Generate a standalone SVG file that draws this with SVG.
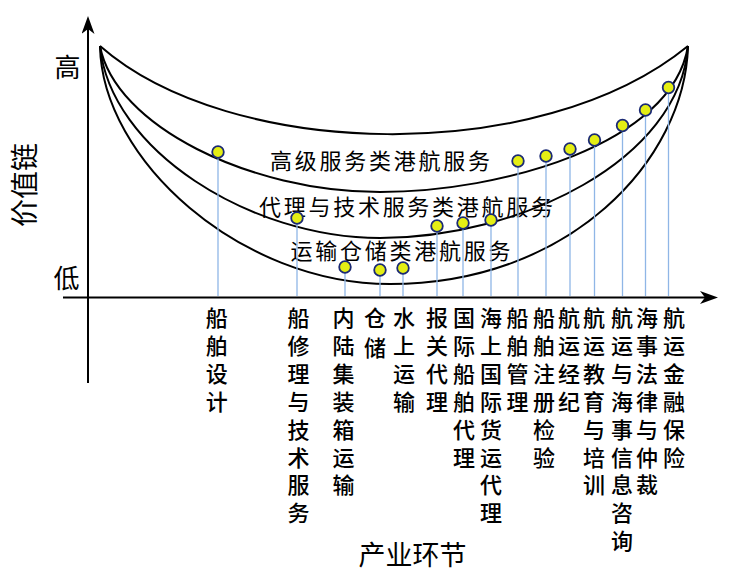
<svg xmlns="http://www.w3.org/2000/svg" width="746" height="583" viewBox="0 0 746 583">
<style>
.curve{fill:none;stroke:#000;stroke-width:2}
.axis{fill:none;stroke:#000;stroke-width:2}
.drop{stroke:#8fb6e6;stroke-width:1.3}
.dot{fill:#e4ee14;stroke:#1b2a74;stroke-width:1.8}
.t{font-family:"Noto Sans CJK SC","Noto Sans",sans-serif;fill:#000}
.band{font-size:22px}
.lab{font-size:22px;text-anchor:middle;font-weight:500}
</style>
<defs>
<marker id="arr" viewBox="0 0 18 13" refX="8" refY="6.5" markerWidth="18" markerHeight="13" markerUnits="userSpaceOnUse" orient="auto">
<path d="M0,0 L18,6.5 L0,13 L5,6.5 Z" fill="#000"/>
</marker>
</defs>
<rect width="746" height="583" fill="#fff"/>
<g id="axes">
<line class="axis" x1="88" y1="383" x2="88" y2="26" marker-end="url(#arr)"/>
<line class="axis" x1="63" y1="297.5" x2="708" y2="297.5" stroke="#333" stroke-width="1.6" marker-end="url(#arr)"/>
<text class="t" x="67.5" y="77" font-size="26" text-anchor="middle">高</text>
<text class="t" x="66.5" y="288" font-size="26" text-anchor="middle">低</text>
<text class="t" transform="translate(35,185) rotate(-90)" font-size="28" text-anchor="middle">价值链</text>
<text class="t" x="412.5" y="565" font-size="27" text-anchor="middle">产业环节</text>
</g>
<g id="curves">
<path class="curve" d="M100,46 C230,160 540,167 688,46"/>
<path class="curve" d="M100,46 C115,126 250,192 380,192 C500,192 672,145 688,46"/>
<path class="curve" d="M100,46 C110,150 250,238 380,238 C520,238 680,160 688,46"/>
<path class="curve" d="M100,46 C102,160 240,284 390,284 C570,284 685,160 688,46"/>
</g>
<g id="band-labels">
<text class="t band" x="270" y="168.5" textLength="220" lengthAdjust="spacing">高级服务类港航服务</text>
<text class="t band" x="259" y="214.5" textLength="294" lengthAdjust="spacing">代理与技术服务类港航服务</text>
<text class="t band" x="290.5" y="259" textLength="220" lengthAdjust="spacing">运输仓储类港航服务</text>
</g>
<g id="connectors">
<line class="drop" x1="218" y1="152" x2="218" y2="296"/>
<line class="drop" x1="297" y1="218" x2="297" y2="296"/>
<line class="drop" x1="345" y1="267" x2="345" y2="296"/>
<line class="drop" x1="380" y1="270" x2="380" y2="296"/>
<line class="drop" x1="403" y1="268" x2="403" y2="296"/>
<line class="drop" x1="437" y1="226" x2="437" y2="296"/>
<line class="drop" x1="463" y1="223" x2="463" y2="296"/>
<line class="drop" x1="491" y1="220" x2="491" y2="296"/>
<line class="drop" x1="518" y1="161" x2="518" y2="296"/>
<line class="drop" x1="546" y1="156" x2="546" y2="296"/>
<line class="drop" x1="570" y1="149" x2="570" y2="296"/>
<line class="drop" x1="594.5" y1="140" x2="594.5" y2="296"/>
<line class="drop" x1="622.5" y1="125.5" x2="622.5" y2="296"/>
<line class="drop" x1="645.5" y1="110" x2="645.5" y2="296"/>
<line class="drop" x1="668.5" y1="87.5" x2="668.5" y2="296"/>
</g>
<g id="dots">
<circle id="n1" class="dot" cx="218" cy="152" r="5.8"/>
<circle id="n2" class="dot" cx="297" cy="218" r="5.8"/>
<circle id="n3" class="dot" cx="345" cy="267" r="5.8"/>
<circle id="n4" class="dot" cx="380" cy="270" r="5.8"/>
<circle id="n5" class="dot" cx="403" cy="268" r="5.8"/>
<circle id="n6" class="dot" cx="437" cy="226" r="5.8"/>
<circle id="n7" class="dot" cx="463" cy="223" r="5.8"/>
<circle id="n8" class="dot" cx="491" cy="220" r="5.8"/>
<circle id="n9" class="dot" cx="518" cy="161" r="5.8"/>
<circle id="n10" class="dot" cx="546" cy="156" r="5.8"/>
<circle id="n11" class="dot" cx="570" cy="149" r="5.8"/>
<circle id="n12" class="dot" cx="594.5" cy="140" r="5.8"/>
<circle id="n13" class="dot" cx="622.5" cy="125.5" r="5.8"/>
<circle id="n14" class="dot" cx="645.5" cy="110" r="5.8"/>
<circle id="n15" class="dot" cx="668.5" cy="87.5" r="5.8"/>
</g>
<g id="stage-labels">
<text id="l1" class="t lab" y="326"><tspan x="216.7">船</tspan><tspan x="216.7" dy="27.9">舶</tspan><tspan x="216.7" dy="27.9">设</tspan><tspan x="216.7" dy="27.9">计</tspan></text>
<text id="l2" class="t lab" y="326"><tspan x="298.5">船</tspan><tspan x="298.5" dy="27.9">修</tspan><tspan x="298.5" dy="27.9">理</tspan><tspan x="298.5" dy="27.9">与</tspan><tspan x="298.5" dy="27.9">技</tspan><tspan x="298.5" dy="27.9">术</tspan><tspan x="298.5" dy="27.9">服</tspan><tspan x="298.5" dy="27.9">务</tspan></text>
<text id="l3" class="t lab" y="326"><tspan x="343.5">内</tspan><tspan x="343.5" dy="27.9">陆</tspan><tspan x="343.5" dy="27.9">集</tspan><tspan x="343.5" dy="27.9">装</tspan><tspan x="343.5" dy="27.9">箱</tspan><tspan x="343.5" dy="27.9">运</tspan><tspan x="343.5" dy="27.9">输</tspan></text>
<text id="l4" class="t lab" y="326" font-size="24"><tspan x="375">仓</tspan><tspan x="375" dy="30">储</tspan></text>
<text id="l5" class="t lab" y="326"><tspan x="404">水</tspan><tspan x="404" dy="27.9">上</tspan><tspan x="404" dy="27.9">运</tspan><tspan x="404" dy="27.9">输</tspan></text>
<text id="l6" class="t lab" y="326"><tspan x="437">报</tspan><tspan x="437" dy="27.9">关</tspan><tspan x="437" dy="27.9">代</tspan><tspan x="437" dy="27.9">理</tspan></text>
<text id="l7" class="t lab" y="326"><tspan x="464">国</tspan><tspan x="464" dy="27.9">际</tspan><tspan x="464" dy="27.9">船</tspan><tspan x="464" dy="27.9">舶</tspan><tspan x="464" dy="27.9">代</tspan><tspan x="464" dy="27.9">理</tspan></text>
<text id="l8" class="t lab" y="326"><tspan x="491">海</tspan><tspan x="491" dy="27.9">上</tspan><tspan x="491" dy="27.9">国</tspan><tspan x="491" dy="27.9">际</tspan><tspan x="491" dy="27.9">货</tspan><tspan x="491" dy="27.9">运</tspan><tspan x="491" dy="27.9">代</tspan><tspan x="491" dy="27.9">理</tspan></text>
<text id="l9" class="t lab" y="326"><tspan x="517.5">船</tspan><tspan x="517.5" dy="27.9">舶</tspan><tspan x="517.5" dy="27.9">管</tspan><tspan x="517.5" dy="27.9">理</tspan></text>
<text id="l10" class="t lab" y="326"><tspan x="544">船</tspan><tspan x="544" dy="27.9">舶</tspan><tspan x="544" dy="27.9">注</tspan><tspan x="544" dy="27.9">册</tspan><tspan x="544" dy="27.9">检</tspan><tspan x="544" dy="27.9">验</tspan></text>
<text id="l11" class="t lab" y="326"><tspan x="569">航</tspan><tspan x="569" dy="27.9">运</tspan><tspan x="569" dy="27.9">经</tspan><tspan x="569" dy="27.9">纪</tspan></text>
<text id="l12" class="t lab" y="326"><tspan x="594">航</tspan><tspan x="594" dy="27.9">运</tspan><tspan x="594" dy="27.9">教</tspan><tspan x="594" dy="27.9">育</tspan><tspan x="594" dy="27.9">与</tspan><tspan x="594" dy="27.9">培</tspan><tspan x="594" dy="27.9">训</tspan></text>
<text id="l13" class="t lab" y="326"><tspan x="622">航</tspan><tspan x="622" dy="27.9">运</tspan><tspan x="622" dy="27.9">与</tspan><tspan x="622" dy="27.9">海</tspan><tspan x="622" dy="27.9">事</tspan><tspan x="622" dy="27.9">信</tspan><tspan x="622" dy="27.9">息</tspan><tspan x="622" dy="27.9">咨</tspan><tspan x="622" dy="27.9">询</tspan></text>
<text id="l14" class="t lab" y="326"><tspan x="647">海</tspan><tspan x="647" dy="27.9">事</tspan><tspan x="647" dy="27.9">法</tspan><tspan x="647" dy="27.9">律</tspan><tspan x="647" dy="27.9">与</tspan><tspan x="647" dy="27.9">仲</tspan><tspan x="647" dy="27.9">裁</tspan></text>
<text id="l15" class="t lab" y="326"><tspan x="674">航</tspan><tspan x="674" dy="27.9">运</tspan><tspan x="674" dy="27.9">金</tspan><tspan x="674" dy="27.9">融</tspan><tspan x="674" dy="27.9">保</tspan><tspan x="674" dy="27.9">险</tspan></text>
</g>
</svg>
